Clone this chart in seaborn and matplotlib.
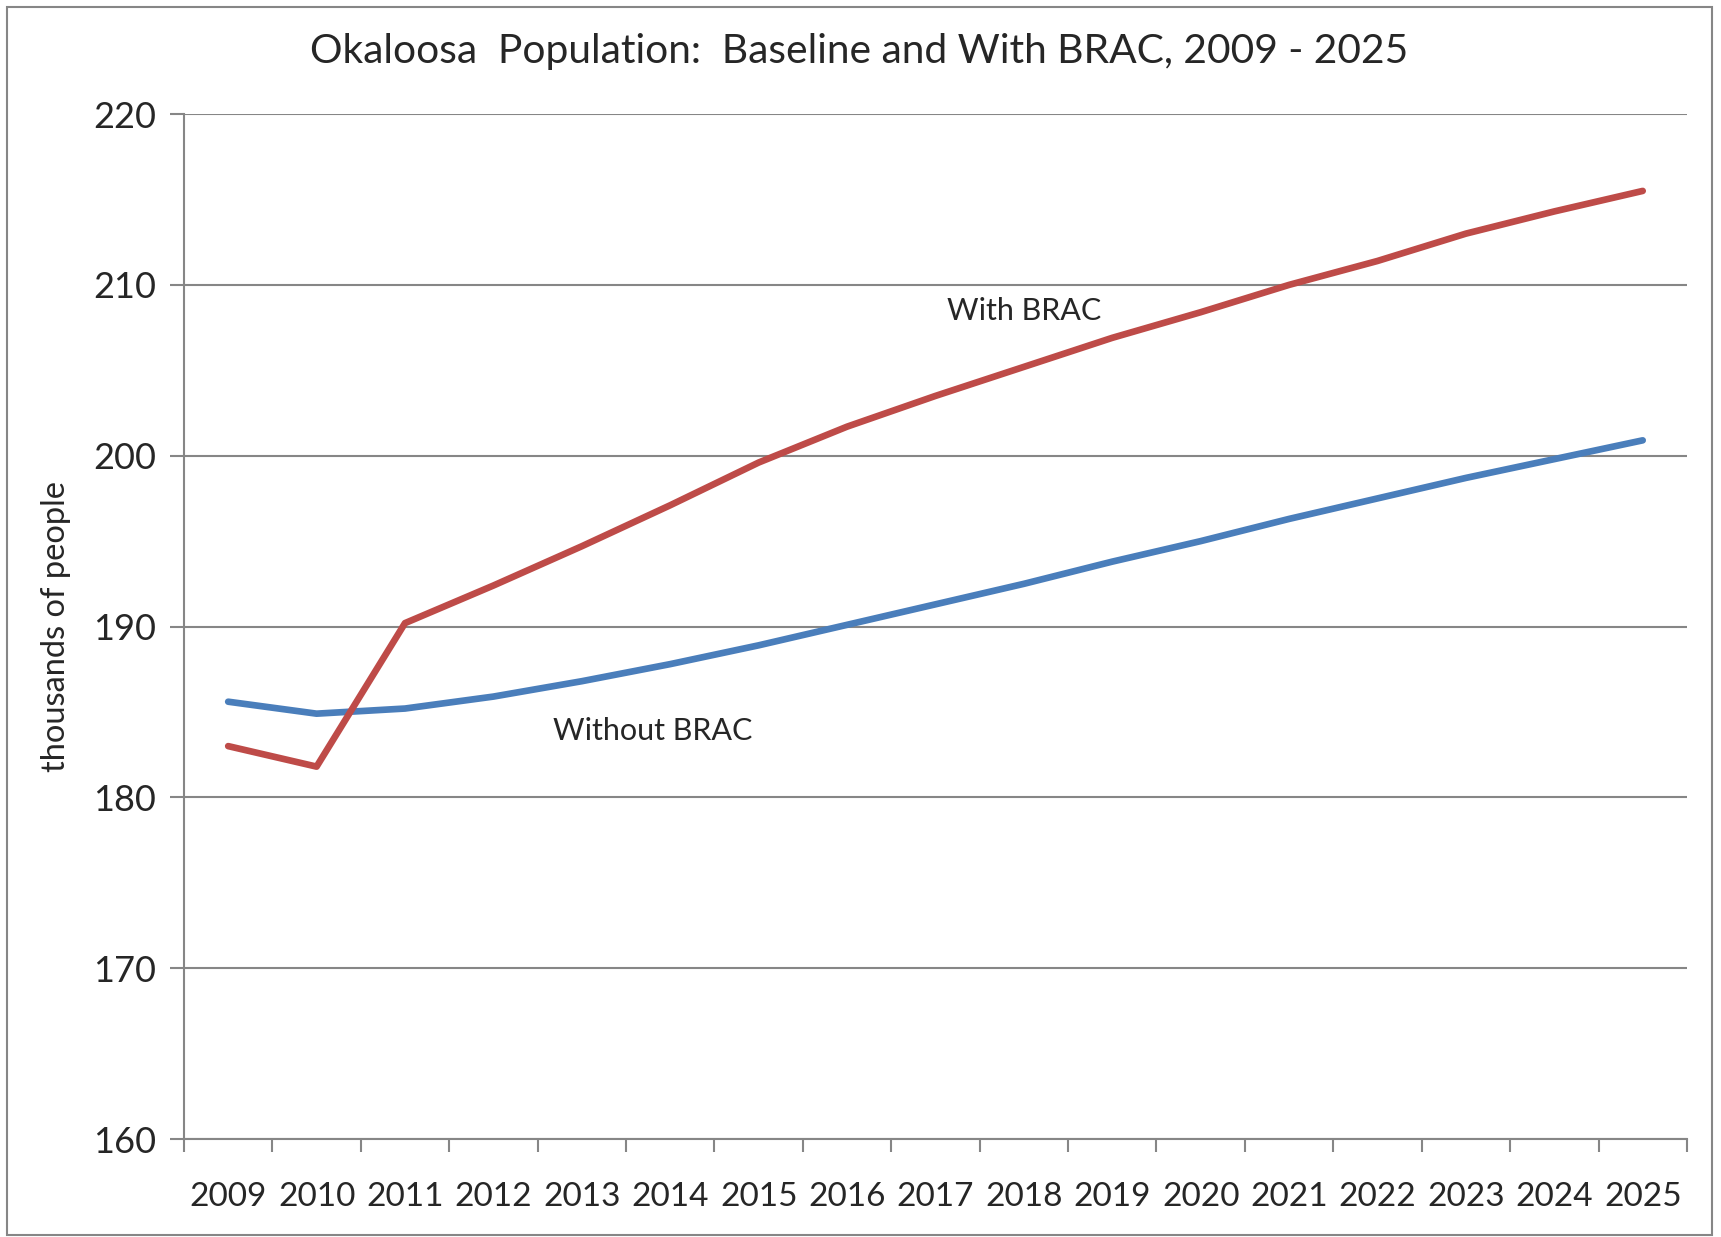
import numpy as np
import pandas as pd
import seaborn as sns
import matplotlib.pyplot as plt
from matplotlib.patches import Rectangle
from matplotlib.ticker import FixedLocator

# data (thousands of people)
years = [str(y) for y in range(2009, 2026)]
without_brac = [185.6, 184.9, 185.2, 185.9, 186.8, 187.8, 188.9, 190.1, 191.3,
                192.5, 193.8, 195.0, 196.3, 197.5, 198.7, 199.8, 200.9]
with_brac = [183.0, 181.8, 190.2, 192.4, 194.7, 197.1, 199.6, 201.7, 203.5,
             205.2, 206.9, 208.4, 210.0, 211.4, 213.0, 214.3, 215.5]
series_names = ["Without BRAC", "With BRAC"]
series_colors = ["#4A7EBB", "#BE4B48"]

df = pd.DataFrame({
    "year": years * 2,
    "pos": list(range(len(years))) * 2,
    "value": without_brac + with_brac,
    "series": [series_names[0]] * len(years) + [series_names[1]] * len(years),
})

sns.set_style("white")
plt.rcParams["font.family"] = ["Lato", "DejaVu Sans"]
grid_gray = "#868686"

fig = plt.figure(figsize=(17.21, 12.37), dpi=100)
ax = fig.add_axes([0.1069, 0.0792, 0.8733, 0.8286])

sns.lineplot(data=df, x="pos", y="value", hue="series",
             palette=dict(zip(series_names, series_colors)),
             linewidth=4.8, legend=False, ax=ax,
             solid_capstyle="round", solid_joinstyle="round")

ax.set_xlim(-0.5, len(years) - 0.5)
ax.set_ylim(160, 220)
ax.set_yticks(range(160, 221, 10))
ax.set_xticks(range(len(years)))
ax.set_xticklabels(years)
ax.xaxis.set_minor_locator(FixedLocator(np.arange(-0.5, len(years), 1)))

ax.tick_params(axis="x", which="major", length=0, pad=31, labelsize=24)
ax.tick_params(axis="x", which="minor", length=9, width=1.5, color=grid_gray,
               direction="out", bottom=True)
ax.tick_params(axis="y", length=10, width=1.5, color=grid_gray, pad=10,
               labelsize=26, left=True)

ax.yaxis.grid(True, color=grid_gray, linewidth=1.5)
ax.xaxis.grid(False)
ax.set_axisbelow(True)
for side in ["top", "right"]:
    ax.spines[side].set_visible(False)
for side in ["left", "bottom"]:
    ax.spines[side].set_color(grid_gray)
    ax.spines[side].set_linewidth(1.5)

ax.set_xlabel("")
ax.set_ylabel("thousands of people", fontsize=23.5, labelpad=16)

ax.text(9.0, 208.5, "With BRAC", fontsize=22, ha="center", va="center")
ax.text(4.8, 183.9, "Without BRAC", fontsize=22, ha="center", va="center")

fig.text(0.499, 0.958, "Okaloosa  Population:  Baseline and With BRAC, 2009 - 2025",
         fontsize=29.3, ha="center", va="center")

# outer chart border
fig.patches.append(Rectangle((0.004, 0.002), 0.991, 0.992, transform=fig.transFigure,
                             fill=False, edgecolor=grid_gray, linewidth=1.5))

fig.savefig("out.png", dpi=100)
